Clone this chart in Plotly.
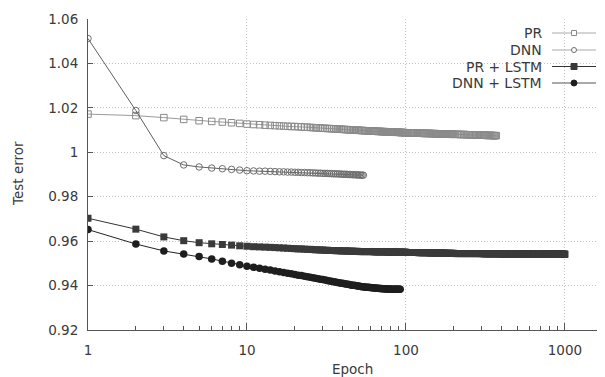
import plotly.graph_objects as go

# ---------------- data ----------------
pr_epochs = list(range(1, 101)) + list(range(102, 201, 2)) + list(range(205, 371, 5))
pr_err = [
    1.0172, 1.0165, 1.0156, 1.0148, 1.0142, 1.0139, 1.0136, 1.0133, 1.0130, 1.0127,
    1.0125, 1.0124, 1.0122, 1.0121, 1.0120, 1.0119, 1.0118, 1.0117, 1.0116, 1.0116,
    1.0115, 1.0114, 1.0113, 1.0113, 1.0112, 1.0111, 1.0110, 1.0110, 1.0109, 1.0108,
    1.0108, 1.0107, 1.0107, 1.0106, 1.0106, 1.0105, 1.0105, 1.0104, 1.0104, 1.0103,
    1.0103, 1.0102, 1.0102, 1.0101, 1.0101, 1.0101, 1.0100, 1.0100, 1.0099, 1.0099,
    1.0099, 1.0098, 1.0098, 1.0098, 1.0097, 1.0097, 1.0097, 1.0096, 1.0096, 1.0096,
    1.0096, 1.0095, 1.0095, 1.0095, 1.0095, 1.0094, 1.0094, 1.0094, 1.0094, 1.0093,
    1.0093, 1.0093, 1.0093, 1.0093, 1.0092, 1.0092, 1.0092, 1.0092, 1.0092, 1.0091,
    1.0091, 1.0091, 1.0091, 1.0091, 1.0090, 1.0090, 1.0090, 1.0090, 1.0090, 1.0090,
    1.0090, 1.0089, 1.0089, 1.0089, 1.0089, 1.0089, 1.0089, 1.0088, 1.0088, 1.0088,
    # 102..200 step 2
    1.0088, 1.0088, 1.0087, 1.0087, 1.0087, 1.0087, 1.0087, 1.0086, 1.0086, 1.0086,
    1.0086, 1.0086, 1.0086, 1.0085, 1.0085, 1.0085, 1.0085, 1.0085, 1.0085, 1.0085,
    1.0085, 1.0084, 1.0084, 1.0084, 1.0084, 1.0084, 1.0084, 1.0083, 1.0083, 1.0083,
    1.0083, 1.0083, 1.0083, 1.0083, 1.0083, 1.0082, 1.0082, 1.0082, 1.0082, 1.0082,
    1.0082, 1.0082, 1.0082, 1.0082, 1.0081, 1.0081, 1.0081, 1.0081, 1.0081, 1.0081,
    # 205..370 step 5
    1.0081, 1.0081, 1.0080, 1.0080, 1.0080, 1.0080, 1.0080, 1.0079, 1.0079, 1.0079,
    1.0079, 1.0079, 1.0078, 1.0078, 1.0078, 1.0078, 1.0078, 1.0077, 1.0077, 1.0077,
    1.0077, 1.0077, 1.0077, 1.0076, 1.0076, 1.0076, 1.0076, 1.0076, 1.0076, 1.0075,
    1.0075, 1.0075, 1.0075, 1.0075,
]

dnn_epochs = list(range(1, 55))
dnn_err = [
    1.0512, 1.0188, 0.9985, 0.9943, 0.9934, 0.9929, 0.9926, 0.9923, 0.9920, 0.9917,
    0.9916, 0.9915, 0.9915, 0.9914, 0.9913, 0.9912, 0.9912, 0.9911, 0.9911, 0.9910,
    0.9910, 0.9909, 0.9909, 0.9908, 0.9908, 0.9907, 0.9907, 0.9906, 0.9906, 0.9905,
    0.9905, 0.9905, 0.9904, 0.9904, 0.9903, 0.9903, 0.9903, 0.9902, 0.9902, 0.9901,
    0.9901, 0.9901, 0.9900, 0.9900, 0.9900, 0.9899, 0.9899, 0.9899, 0.9898, 0.9898,
    0.9898, 0.9897, 0.9897, 0.9897,
]

prl_epochs = list(range(1, 101)) + list(range(102, 201, 2)) + list(range(205, 1001, 5))
prl_err = [
    0.9703, 0.9654, 0.9619, 0.9602, 0.9593, 0.9588, 0.9585, 0.9582, 0.9579, 0.9577,
    0.9575, 0.9574, 0.9573, 0.9572, 0.9571, 0.9570, 0.9569, 0.9568, 0.9567, 0.9566,
    0.9565, 0.9565, 0.9564, 0.9563, 0.9563, 0.9562, 0.9561, 0.9561, 0.9560, 0.9560,
    0.9559, 0.9559, 0.9558, 0.9558, 0.9558, 0.9557, 0.9557, 0.9557, 0.9556, 0.9556,
    0.9556, 0.9556, 0.9555, 0.9555, 0.9555, 0.9555, 0.9554, 0.9554, 0.9554, 0.9554,
    0.9553, 0.9553, 0.9553, 0.9553, 0.9553, 0.9553, 0.9553, 0.9553, 0.9553, 0.9553,
    0.9553, 0.9553, 0.9552, 0.9552, 0.9552, 0.9552, 0.9552, 0.9552, 0.9552, 0.9552,
    0.9552, 0.9552, 0.9552, 0.9552, 0.9552, 0.9551, 0.9551, 0.9551, 0.9551, 0.9551,
    0.9551, 0.9551, 0.9551, 0.9551, 0.9551, 0.9551, 0.9551, 0.9551, 0.9550, 0.9550,
    0.9550, 0.9550, 0.9550, 0.9550, 0.9550, 0.9550, 0.9550, 0.9550, 0.9550, 0.9550,
    # 102..200 step 2
    0.9549, 0.9549, 0.9549, 0.9549, 0.9549, 0.9549, 0.9549, 0.9549, 0.9549, 0.9548,
    0.9548, 0.9548, 0.9548, 0.9548, 0.9548, 0.9548, 0.9548, 0.9548, 0.9548, 0.9547,
    0.9547, 0.9547, 0.9547, 0.9547, 0.9547, 0.9547, 0.9547, 0.9547, 0.9547, 0.9546,
    0.9546, 0.9546, 0.9546, 0.9546, 0.9546, 0.9546, 0.9546, 0.9546, 0.9546, 0.9545,
    0.9545, 0.9545, 0.9545, 0.9545, 0.9545, 0.9545, 0.9545, 0.9545, 0.9545, 0.9545,
    # 205..1000 step 5
    0.9544, 0.9544, 0.9544, 0.9544, 0.9544, 0.9544, 0.9544, 0.9544, 0.9544, 0.9544,
    0.9544, 0.9544, 0.9544, 0.9544, 0.9544, 0.9544, 0.9544, 0.9544, 0.9544, 0.9544,
    0.9543, 0.9543, 0.9543, 0.9543, 0.9543, 0.9543, 0.9543, 0.9543, 0.9543, 0.9543,
    0.9543, 0.9543, 0.9543, 0.9543, 0.9543, 0.9543, 0.9543, 0.9543, 0.9543, 0.9543,
    0.9542, 0.9542, 0.9542, 0.9542, 0.9542, 0.9542, 0.9542, 0.9542, 0.9542, 0.9542,
    0.9542, 0.9542, 0.9542, 0.9542, 0.9542, 0.9542, 0.9542, 0.9542, 0.9542, 0.9542,
    0.9542, 0.9542, 0.9542, 0.9542, 0.9542, 0.9542, 0.9542, 0.9542, 0.9542, 0.9542,
    0.9542, 0.9542, 0.9542, 0.9542, 0.9542, 0.9542, 0.9542, 0.9542, 0.9542, 0.9542,
    0.9541, 0.9541, 0.9541, 0.9541, 0.9541, 0.9541, 0.9541, 0.9541, 0.9541, 0.9541,
    0.9541, 0.9541, 0.9541, 0.9541, 0.9541, 0.9541, 0.9541, 0.9541, 0.9541, 0.9541,
    0.9541, 0.9541, 0.9541, 0.9541, 0.9541, 0.9541, 0.9541, 0.9541, 0.9541, 0.9541,
    0.9541, 0.9541, 0.9541, 0.9541, 0.9541, 0.9541, 0.9541, 0.9541, 0.9541, 0.9541,
    0.9541, 0.9541, 0.9541, 0.9541, 0.9541, 0.9541, 0.9541, 0.9541, 0.9541, 0.9541,
    0.9541, 0.9541, 0.9541, 0.9541, 0.9541, 0.9541, 0.9541, 0.9541, 0.9541, 0.9541,
    0.9541, 0.9541, 0.9541, 0.9541, 0.9541, 0.9541, 0.9541, 0.9541, 0.9541, 0.9541,
    0.9541, 0.9541, 0.9541, 0.9541, 0.9541, 0.9541, 0.9541, 0.9541, 0.9541, 0.9541,
]

dnnl_epochs = list(range(1, 93))
dnnl_err = [
    0.9652, 0.9587, 0.9556, 0.9542, 0.9531, 0.9520, 0.9510, 0.9501, 0.9494, 0.9487,
    0.9482, 0.9478, 0.9474, 0.9470, 0.9466, 0.9462, 0.9459, 0.9456, 0.9453, 0.9450,
    0.9447, 0.9445, 0.9442, 0.9440, 0.9437, 0.9435, 0.9433, 0.9431, 0.9429, 0.9427,
    0.9425, 0.9423, 0.9421, 0.9419, 0.9417, 0.9416, 0.9414, 0.9413, 0.9411, 0.9410,
    0.9408, 0.9407, 0.9406, 0.9405, 0.9403, 0.9402, 0.9401, 0.9400, 0.9399, 0.9398,
    0.9397, 0.9396, 0.9395, 0.9395, 0.9394, 0.9393, 0.9393, 0.9392, 0.9391, 0.9391,
    0.9390, 0.9390, 0.9389, 0.9389, 0.9388, 0.9388, 0.9388, 0.9387, 0.9387, 0.9387,
    0.9386, 0.9386, 0.9386, 0.9386, 0.9385, 0.9385, 0.9385, 0.9385, 0.9385, 0.9384,
    0.9384, 0.9384, 0.9384, 0.9384, 0.9384, 0.9384, 0.9384, 0.9384, 0.9384, 0.9384,
    0.9384, 0.9384,
]

series_names = ["PR", "DNN", "PR + LSTM", "DNN + LSTM"]
x_tick_vals = [1, 10, 100, 1000]
x_tick_text = ["1", "10", "100", "1000"]
y_tick_vals = [0.92, 0.94, 0.96, 0.98, 1.00, 1.02, 1.04, 1.06]
y_tick_text = ["0.92", "0.94", "0.96", "0.98", "1", "1.02", "1.04", "1.06"]

assert len(pr_epochs) == len(pr_err), (len(pr_epochs), len(pr_err))
assert len(dnn_epochs) == len(dnn_err)
assert len(prl_epochs) == len(prl_err), (len(prl_epochs), len(prl_err))
assert len(dnnl_epochs) == len(dnnl_err)

# ---------------- styles ----------------
FONT = "DejaVu Sans"
TXT = "#3a3a3a"
GRID = "#c4c4c4"
AX = "#555555"
styles = [
    dict(symbol="square-open", msize=6.5, mcolor="#8a8a8a", lcolor="#9a9a9a", lw=1, open=True,
         key_line="#aaaaaa"),
    dict(symbol="circle-open", msize=6.5, mcolor="#6e6e6e", lcolor="#606060", lw=1, open=True,
         key_line="#aaaaaa"),
    dict(symbol="square", msize=7, mcolor="#3a3a3a", lcolor="#333333", lw=1, open=False,
         key_line="#333333"),
    dict(symbol="circle", msize=7.5, mcolor="#1e1e1e", lcolor="#222222", lw=1, open=False,
         key_line="#555555"),
]
data = [(pr_epochs, pr_err), (dnn_epochs, dnn_err), (prl_epochs, prl_err), (dnnl_epochs, dnnl_err)]

fig = go.Figure()
for (xs, ys), name, st in zip(data, series_names, styles):
    fig.add_trace(go.Scatter(
        x=xs, y=ys, mode="lines+markers", name=name, showlegend=False,
        line=dict(color=st["lcolor"], width=st["lw"]),
        marker=dict(symbol=st["symbol"], size=st["msize"], color=st["mcolor"],
                    line=dict(width=1 if st["open"] else 0, color=st["mcolor"])),
    ))

# The page body has an 8px default margin; size the figure so the plot area
# lands at x 88..605, y 19..330 of the 605x377 window.
OFF = 8
W, H = 605 - OFF, 377 - OFF
L, R, T, B = 88 - OFF, 0, 19 - OFF, 47
pw, ph = W - L - R, H - T - B


def px_x(x):  # window pixel -> paper
    return (x - OFF - L) / pw


def px_y(y):
    return (H + OFF - B - y) / ph


minor_vals = [m * d for d in (1, 10, 100, 1000) for m in range(2, 10)]

fig.update_layout(
    width=W, height=H,
    margin=dict(l=L, r=R, t=T, b=B, autoexpand=False),
    paper_bgcolor="white", plot_bgcolor="white",
    font=dict(family=FONT, size=13.5, color=TXT),
    xaxis=dict(
        type="log", range=[0, 3.252],
        tickvals=x_tick_vals, ticktext=x_tick_text,
        ticks="inside", ticklen=7, tickcolor=AX, tickwidth=1,
        showline=True, linecolor=AX, linewidth=1,
        showgrid=True, gridcolor=GRID, griddash="1px,2px", gridwidth=1,
        zeroline=False, ticklabelstandoff=8, automargin=False,
        minor=dict(tickvals=minor_vals, ticks="inside", ticklen=4, tickcolor=AX,
                   showgrid=False),
    ),
    yaxis=dict(
        range=[0.92, 1.06],
        tickvals=y_tick_vals, ticktext=y_tick_text,
        ticks="inside", ticklen=5, tickcolor=AX, tickwidth=1,
        showline=True, linecolor=AX, linewidth=1,
        showgrid=True, gridcolor=GRID, griddash="1px,2px", gridwidth=1,
        zeroline=False, ticklabelstandoff=6, automargin=False,
    ),
)

annotations = [
    dict(text="Epoch", x=px_x(352), y=px_y(369), xref="paper", yref="paper",
         showarrow=False, xanchor="center", yanchor="middle",
         font=dict(family=FONT, size=13.5, color=TXT)),
    dict(text="Test error", x=px_x(18), y=px_y(174), xref="paper", yref="paper",
         showarrow=False, textangle=-90, xanchor="center", yanchor="middle",
         font=dict(family=FONT, size=13.5, color=TXT)),
]
shapes = []
legend_rows = [33, 50, 66.5, 83]
for name, st, ry in zip(series_names, styles, legend_rows):
    yp = px_y(ry)
    annotations.append(dict(text=name, x=px_x(544), y=yp, xref="paper", yref="paper",
                            showarrow=False, xanchor="right", yanchor="middle",
                            font=dict(family=FONT, size=14, color=TXT)))
    shapes.append(dict(type="line", xref="paper", yref="paper", x0=px_x(552), x1=px_x(596),
                       y0=yp, y1=yp, line=dict(color=st["key_line"], width=1)))
    s = 2.5 if st["open"] else 3
    kind = "rect" if "square" in st["symbol"] else "circle"
    shapes.append(dict(type=kind, xref="paper", yref="paper",
                       xsizemode="pixel", ysizemode="pixel",
                       xanchor=px_x(574), yanchor=yp,
                       x0=-s, x1=s, y0=-s, y1=s,
                       fillcolor="white" if st["open"] else st["mcolor"],
                       line=dict(color=st["mcolor"], width=1)))

fig.update_layout(annotations=annotations, shapes=shapes)
fig.write_html("out.html")
